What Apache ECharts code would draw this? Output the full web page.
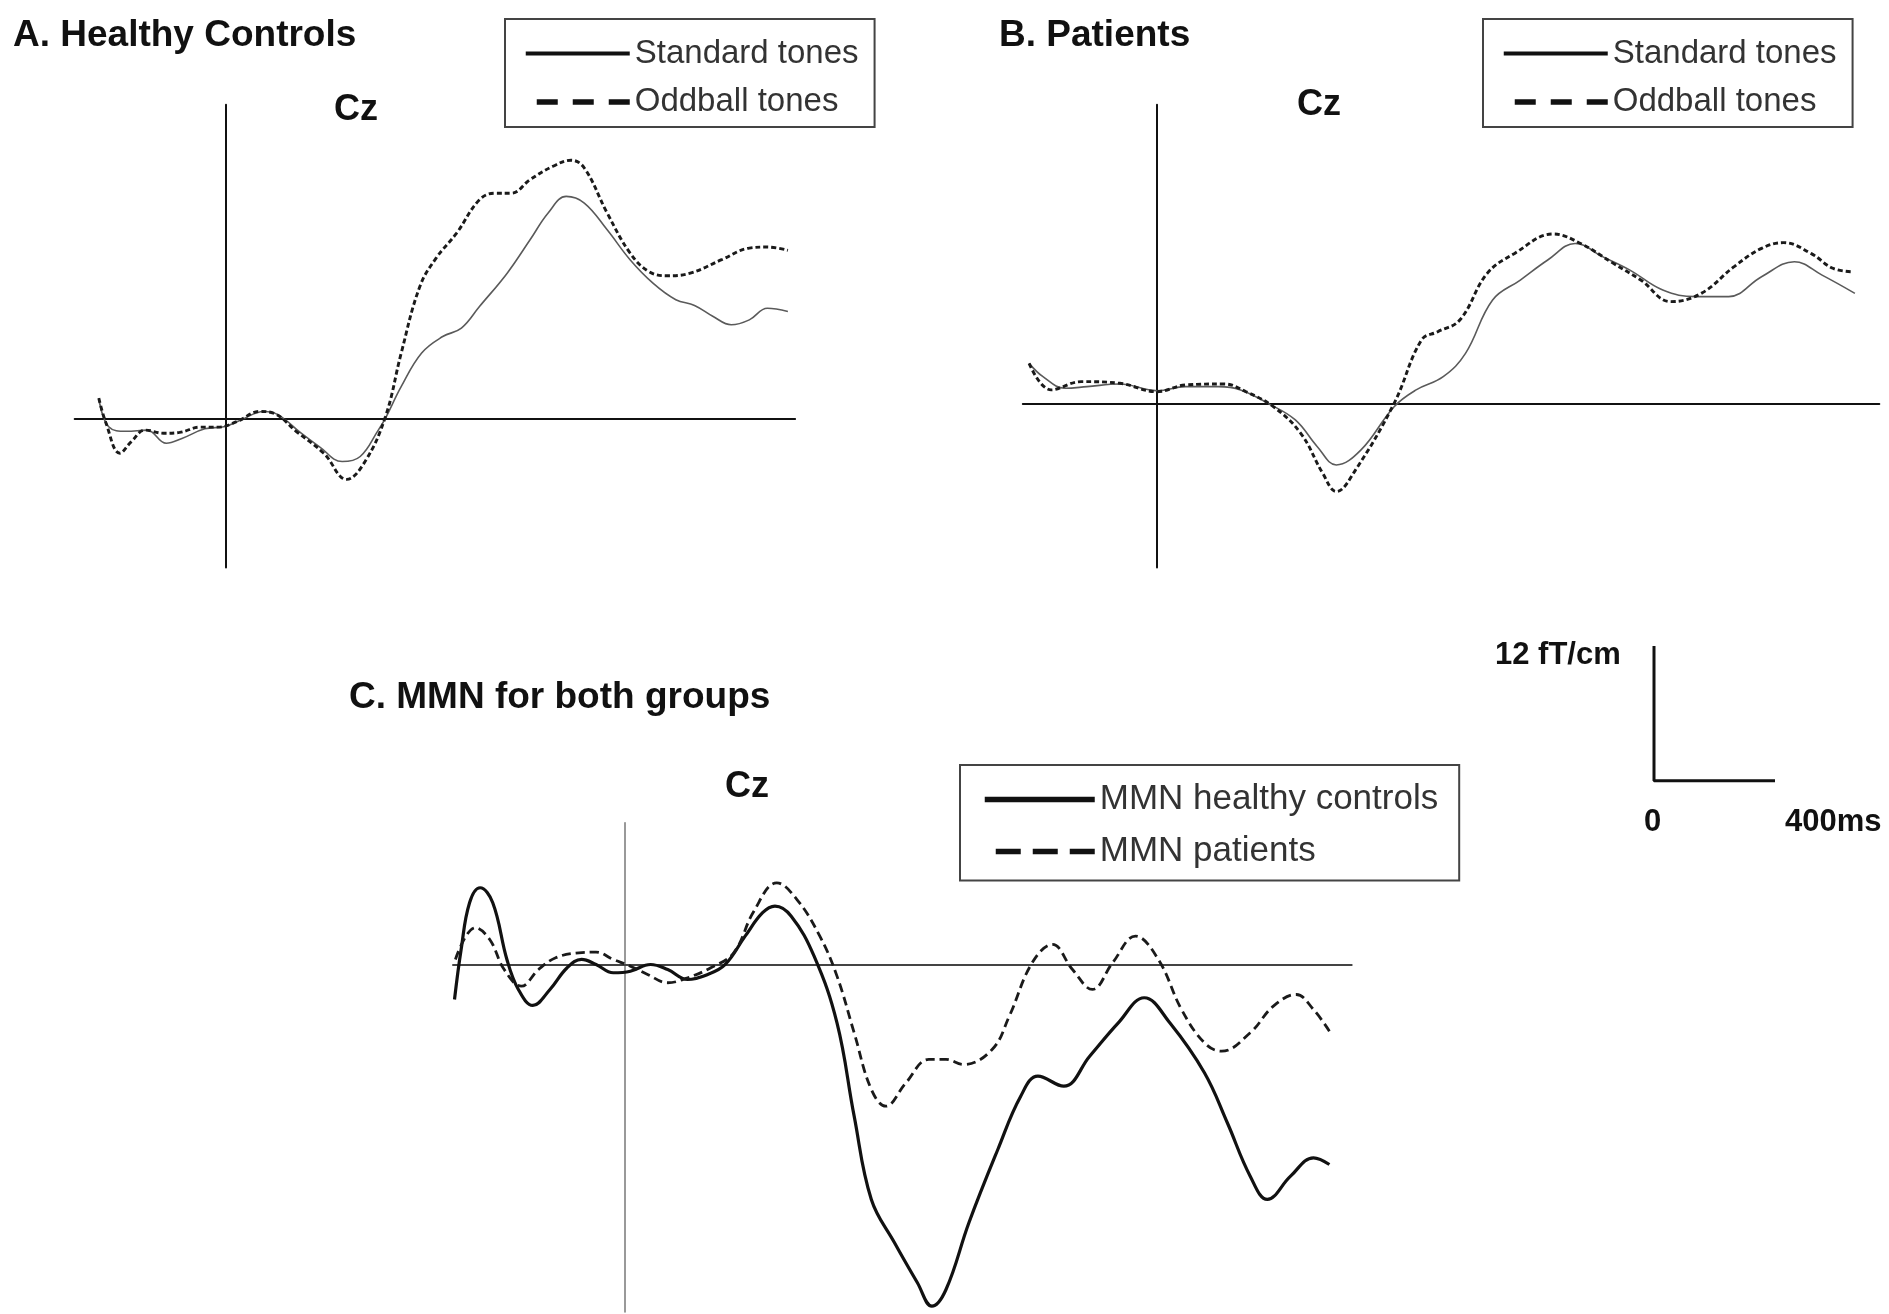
<!DOCTYPE html>
<html>
<head>
<meta charset="utf-8">
<script src="https://cdn.jsdelivr.net/npm/echarts@6/dist/echarts.min.js"></script>
<style>
  html, body { margin: 0; padding: 0; background: #ffffff; }
  #chart { width: 1889px; height: 1314px; }
</style>
</head>
<body>
<div id="chart"></div>
<script>
// ---- Data: [time (ms), amplitude (fT/cm)] ----
const healthyStandard = [[-420,1.88],[-388,-0.65],[-328,-1.08],[-260,-0.97],[-196,-2.15],[-144,-1.72],[-68,-0.86],[0,-0.65],[52,-0.06],[128,0.69],[176,0.39],[252,-1.25],[312,-2.44],[388,-3.78],[448,-3.33],[508,-0.97],[532,0.09],[584,2.9],[652,5.91],[722,7.38],[784,8.13],[844,10.06],[936,13.04],[1012,16.02],[1072,18.41],[1132,19.89],[1192,19.3],[1268,16.91],[1344,14.24],[1420,12.15],[1496,10.67],[1558,10.16],[1620,9.17],[1680,8.43],[1740,8.87],[1800,9.91],[1868,9.62]];
const healthyOddball = [[-420,1.88],[-396,-0.35],[-350,-3.04],[-312,-2.0],[-266,-0.97],[-205,-1.25],[-152,-1.18],[-84,-0.71],[-24,-0.71],[38,-0.22],[114,0.69],[160,0.54],[236,-1.1],[327,-3.04],[403,-5.37],[464,-3.78],[532,0.24],[584,5.89],[646,11.85],[700,14.38],[768,16.61],[844,19.59],[896,20.18],[950,20.18],[1012,21.39],[1088,22.58],[1148,23.12],[1192,22.43],[1268,18.41],[1344,14.84],[1406,13.19],[1468,12.81],[1544,13.04],[1648,14.24],[1740,15.28],[1800,15.37],[1868,15.08]];
const patientStandard = [[-423,3.59],[-377,2.4],[-304,1.37],[-231,1.51],[-122,1.75],[2,1.15],[96,1.51],[206,1.51],[279,1.22],[370,0.02],[461,-1.46],[534,-3.85],[597,-5.48],[679,-4.14],[789,-0.28],[862,1.22],[952,2.4],[1026,4.48],[1116,9.25],[1208,11.03],[1299,12.82],[1390,14.3],[1481,13.12],[1572,11.92],[1681,10.14],[1790,9.55],[1900,9.55],[2009,11.33],[2118,12.67],[2210,11.47],[2319,9.84]];
const patientOddball = [[-423,3.59],[-350,1.22],[-250,1.96],[-122,1.81],[2,1.06],[96,1.66],[224,1.75],[297,1.06],[388,-0.28],[479,-2.66],[552,-6.23],[597,-7.86],[661,-5.92],[789,0.02],[880,5.68],[934,6.42],[1007,7.46],[1098,11.62],[1189,13.41],[1317,15.14],[1408,14.3],[1517,12.52],[1608,11.03],[1708,9.1],[1809,9.84],[1918,12.23],[2009,13.86],[2082,14.37],[2173,13.41],[2246,12.08],[2310,11.77]];
const mmnHealthy = [[-565,-3.13],[-543,1.34],[-515,5.51],[-480,6.85],[-438,5.51],[-391,0.45],[-353,-2.23],[-305,-3.66],[-248,-2.23],[-191,-0.29],[-143,0.45],[-95,0],[-38,-0.74],[19,-0.6],[86,0],[143,-0.45],[209,-1.34],[276,-0.89],[334,0],[400,2.53],[458,4.62],[499,5.21],[553,4.31],[629,0.74],[705,-5.21],[762,-13.54],[819,-20.98],[896,-24.85],[972,-28.42],[1020,-30.51],[1067,-29.02],[1143,-23.06],[1239,-16.52],[1315,-11.76],[1372,-9.97],[1458,-10.87],[1544,-8.19],[1639,-5.21],[1725,-2.97],[1810,-5.21],[1925,-9.67],[2001,-14.13],[2077,-18.9],[2134,-20.98],[2211,-18.9],[2287,-17.26],[2340,-17.86]];
const mmnPatients = [[-562,0.45],[-496,3.28],[-448,2.23],[-400,-0.45],[-343,-1.94],[-286,-0.45],[-229,0.6],[-152,1.04],[-95,1.1],[-38,0.45],[19,-0.15],[76,-0.89],[143,-1.63],[209,-1.19],[286,-0.29],[362,1.04],[429,4.76],[505,7.29],[572,5.8],[648,2.53],[705,-1.04],[762,-6.1],[819,-11.16],[867,-12.65],[934,-10.56],[1010,-8.48],[1067,-8.48],[1124,-8.93],[1220,-7.59],[1277,-4.62],[1353,0.15],[1420,1.79],[1487,-0.45],[1553,-2.23],[1620,0.15],[1696,2.53],[1772,0.45],[1849,-4.02],[1925,-6.99],[1982,-7.74],[2077,-6.1],[2154,-3.72],[2230,-2.68],[2287,-4.02],[2340,-5.96]];

// Scale bar (12 fT/cm, 400 ms)
const scaleBarTime = [0, 0, 400];
const scaleBarAmp = [12, 0, 0];
const scaleLabels = ['12 fT/cm', '0', '400ms'];

// Texts
const panelTitles = ['A. Healthy Controls', 'B. Patients', 'C. MMN for both groups'];
const channelLabel = 'Cz';
const legendNamesAB = ['Standard tones', 'Oddball tones'];
const legendNamesC = ['MMN healthy controls', 'MMN patients'];

const FONT = '"Liberation Sans", Arial, Helvetica, sans-serif';

const chart = echarts.init(document.getElementById('chart'), null, { renderer: 'canvas' });

function valueAxis(gridIndex, min, max, color, width, show) {
  return {
    gridIndex, type: 'value', min, max, show: show !== false,
    axisLine: { show: true, onZero: true, lineStyle: { color, width } },
    axisTick: { show: false }, axisLabel: { show: false }, splitLine: { show: false }
  };
}

function lineSeries(name, data, xi, color, width, type) {
  return {
    type: 'line', name, data, xAxisIndex: xi, yAxisIndex: xi,
    smooth: 0.4, symbol: 'none', silent: true, clip: false,
    lineStyle: { color, width, type: type || 'solid' },
    itemStyle: { color }
  };
}

function titleItem(text, left, top, size) {
  return { text, left, top, padding: 0,
    textStyle: { fontSize: size, fontWeight: 'bold', color: '#111', fontFamily: FONT } };
}

function legendAB(left) {
  return {
    left, top: 19, orient: 'vertical', itemWidth: 104, itemHeight: 30, itemGap: 15.5,
    padding: [18, 16, 8.5, 18], borderColor: '#444', borderWidth: 2, selectedMode: false,
    textStyle: { fontSize: 33, color: '#333', fontFamily: FONT },
    lineStyle: { width: 4 },
    data: [
      { name: legendNamesAB[0], lineStyle: { color: '#111', width: 4, type: 'solid' }, itemStyle: { opacity: 0 } },
      { name: legendNamesAB[1], lineStyle: { color: '#111', width: 5.5, type: [21, 15], dashOffset: 25 }, itemStyle: { opacity: 0 } }
    ]
  };
}

const scaleData = scaleBarTime.map((t, i) => [t, scaleBarAmp[i]]);

const option = {
  backgroundColor: '#ffffff',
  animation: false,
  textStyle: { fontFamily: FONT },
  title: [
    titleItem(panelTitles[0], 13, 17, 37),
    titleItem(panelTitles[1], 999, 17, 37),
    titleItem(panelTitles[2], 349, 679, 37),
    titleItem(channelLabel, 334, 92, 36),
    titleItem(channelLabel, 1297, 87, 36),
    titleItem(channelLabel, 725, 769, 36),
    titleItem(scaleLabels[0], 1495, 640, 31),
    titleItem(scaleLabels[1], 1644, 807, 31),
    titleItem(scaleLabels[2], 1785, 807, 31)
  ],
  legend: [
    legendAB(505),
    legendAB(1483),
    {
      left: 960, top: 765, orient: 'vertical', itemWidth: 110, itemHeight: 30, itemGap: 17,
      padding: [17, 21, 11.5, 22], borderColor: '#444', borderWidth: 2, selectedMode: false,
      textStyle: { fontSize: 35, color: '#333', fontFamily: FONT },
      lineStyle: { width: 5.5 },
      data: [
        { name: legendNamesC[0], lineStyle: { color: '#111', width: 5.5, type: 'solid' }, itemStyle: { opacity: 0 } },
        { name: legendNamesC[1], lineStyle: { color: '#111', width: 5.5, type: [25, 12], dashOffset: 26 }, itemStyle: { opacity: 0 } }
      ]
    }
  ],
  grid: [
    { left: 74.7, top: 104.8, width: 720.4, height: 462.6, containLabel: false, outerBoundsMode: 'none' },
    { left: 1022.8, top: 104.8, width: 856.5, height: 462.6, containLabel: false, outerBoundsMode: 'none' },
    { left: 453, top: 822.8, width: 898.7, height: 489.1, containLabel: false, outerBoundsMode: 'none' },
    { left: 1654, top: 646, width: 121, height: 134.7, containLabel: false, outerBoundsMode: 'none' }
  ],
  xAxis: [
    valueAxis(0, -500, 1892, '#111', 2),
    valueAxis(1, -444, 2400, '#111', 2),
    valueAxis(2, -570, 2414, '#444', 2),
    valueAxis(3, 0, 400, '#111', 1, false)
  ],
  yAxis: [
    valueAxis(0, -13.23, 28.07, '#111', 2),
    valueAxis(1, -14.63, 26.68, '#111', 2),
    valueAxis(2, -31.02, 12.65, '#777', 1.5),
    valueAxis(3, 0, 12, '#111', 1, false)
  ],
  series: [
    lineSeries(legendNamesAB[0], healthyStandard, 0, '#5a5a5a', 1.6),
    lineSeries(legendNamesAB[1], healthyOddball, 0, '#1a1a1a', 2.9, [5, 3]),
    lineSeries(legendNamesAB[0], patientStandard, 1, '#5a5a5a', 1.6),
    lineSeries(legendNamesAB[1], patientOddball, 1, '#1a1a1a', 2.9, [5, 3]),
    lineSeries(legendNamesC[0], mmnHealthy, 2, '#111', 3.2),
    lineSeries(legendNamesC[1], mmnPatients, 2, '#1a1a1a', 2.8, [9, 5]),
    Object.assign(lineSeries('scale bar', scaleData, 3, '#111', 3), { smooth: false })
  ]
};

chart.setOption(option);
</script>
</body>
</html>
